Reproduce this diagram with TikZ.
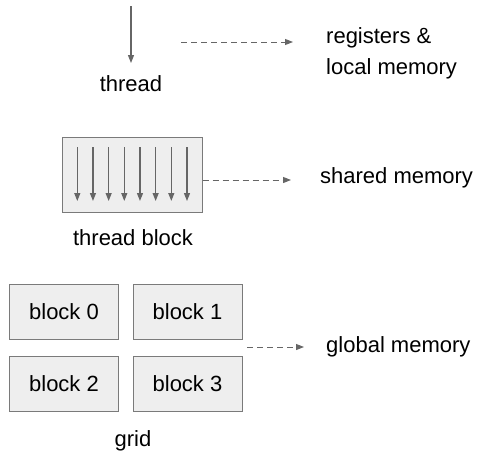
\documentclass[tikz,border=0pt]{standalone}
\usepackage{fontspec}
\setmainfont{Liberation Sans}
\usetikzlibrary{arrows.meta}
\definecolor{linegray}{HTML}{666666}
\definecolor{boxfill}{HTML}{EEEEEE}
\definecolor{boxline}{HTML}{7A7A7A}
\begin{document}
\begin{tikzpicture}[x=1pt,y=-1pt,
  lbl/.style={font=\fontsize{22}{31}\selectfont, text=black, inner sep=0pt},
  solidarrow/.style={draw=linegray, line width=1.2pt, -{Triangle[length=8pt,width=6pt]}},
  dasharrow/.style={draw=linegray, line width=1pt, dash pattern=on 6pt off 4pt, -{Triangle[length=8pt,width=6pt]}},
  cell/.style={draw=boxline, fill=boxfill, line width=1pt, minimum width=109pt, minimum height=55pt, inner sep=0pt, font=\fontsize{22}{26}\selectfont}]
\useasboundingbox (0,0) rectangle (487,463);

% single thread
\coordinate (tTop) at (131,6);
\coordinate (tBot) at (131,63);
\draw[solidarrow] (tTop) -- (tBot);
\node[lbl] (thread) at (131,84) {thread};
\coordinate (d1s) at (181,42);
\coordinate (d1e) at (293,42);
\draw[dasharrow] (d1s) -- (d1e);
\node[lbl, anchor=west, align=left] (regs) at (326,53) {registers \&\\local memory};

% thread block
\node[draw=boxline, fill=boxfill, line width=1pt, minimum width=140pt, minimum height=75pt, inner sep=0pt] (tb) at (132,174.5) {};
\foreach \i in {0,...,7}{
  \coordinate (a\i) at ({77.3+15.67*\i},147);
  \coordinate (b\i) at ({77.3+15.67*\i},201);
  \draw[solidarrow] (a\i) -- (b\i);
}
\node[lbl] (tblabel) at (133,238) {thread block};
\coordinate (d2e) at (291,180);
\draw[dasharrow] (tb.east |- d2e) -- (d2e);
\node[lbl, anchor=west] (shared) at (320,178) {shared memory};

% grid of blocks
\node[cell] (blk0) at (64,311.5) {block 0};
\node[cell] (blk1) at (187.5,311.5) {block 1};
\node[cell] (blk2) at (64,384) {block 2};
\node[cell] (blk3) at (187.5,384) {block 3};
\coordinate (d3s) at (247,347);
\coordinate (d3e) at (304,347);
\draw[dasharrow] (d3s) -- (d3e);
\node[lbl, anchor=west] (global) at (326,347) {global memory};
\node[lbl] (grid) at (133,441) {grid};
\end{tikzpicture}
\end{document}
